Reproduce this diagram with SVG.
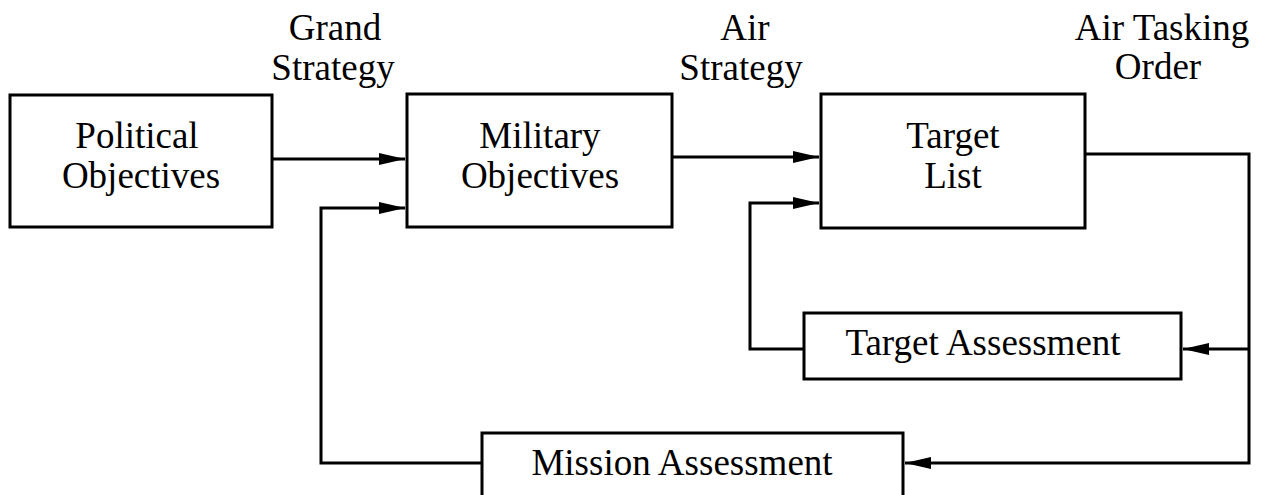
<svg xmlns="http://www.w3.org/2000/svg" width="1263" height="495" viewBox="0 0 1263 495">
<style>
.box{fill:#fff;stroke:#000;stroke-width:3}
.t{font-family:"Liberation Serif","Times New Roman",serif;font-size:37px;fill:#000;text-anchor:middle}
.c{fill:none;stroke:#000;stroke-width:3}
</style>
<defs>
<marker id="ah" markerUnits="userSpaceOnUse" markerWidth="27" markerHeight="12" refX="26" refY="6" orient="auto">
<path d="M0,0 L26,6 L0,12 z" fill="#000"/>
</marker>
</defs>
<rect width="1263" height="495" fill="#fff"/>
<g id="connectors">
<path class="c" d="M272,159 L405,159" marker-end="url(#ah)"/>
<path class="c" d="M672,157 L819,157" marker-end="url(#ah)"/>
<path class="c" d="M1085,154 L1249,154 L1249,463 L905,463" marker-end="url(#ah)"/>
<path class="c" d="M1249,349 L1183,349" marker-end="url(#ah)"/>
<path class="c" d="M804,349 L750,349 L750,203 L819,203" marker-end="url(#ah)"/>
<path class="c" d="M482,463 L321,463 L321,208 L405,208" marker-end="url(#ah)"/>
</g>
<g id="labels">
<text class="t" x="335" y="40">Grand</text>
<text class="t" x="333" y="80">Strategy</text>
<text class="t" x="745" y="40">Air</text>
<text class="t" x="741" y="80">Strategy</text>
<text class="t" x="1162" y="40">Air Tasking</text>
<text class="t" x="1158" y="79">Order</text>
</g>
<g id="political">
<rect class="box" x="10" y="95" width="262" height="132"/>
<text class="t" x="137" y="148">Political</text>
<text class="t" x="141" y="188">Objectives</text>
</g>
<g id="military">
<rect class="box" x="407" y="94" width="265" height="133"/>
<text class="t" x="540" y="148">Military</text>
<text class="t" x="540" y="188">Objectives</text>
</g>
<g id="targetlist">
<rect class="box" x="821" y="94" width="264" height="134"/>
<text class="t" x="953" y="148">Target</text>
<text class="t" x="953" y="188">List</text>
</g>
<g id="targetassessment">
<rect class="box" x="804" y="313" width="377" height="66"/>
<text class="t" x="983" y="355">Target Assessment</text>
</g>
<g id="missionassessment">
<rect class="box" x="482" y="433" width="421" height="80"/>
<text class="t" x="682" y="475">Mission Assessment</text>
</g>
</svg>
